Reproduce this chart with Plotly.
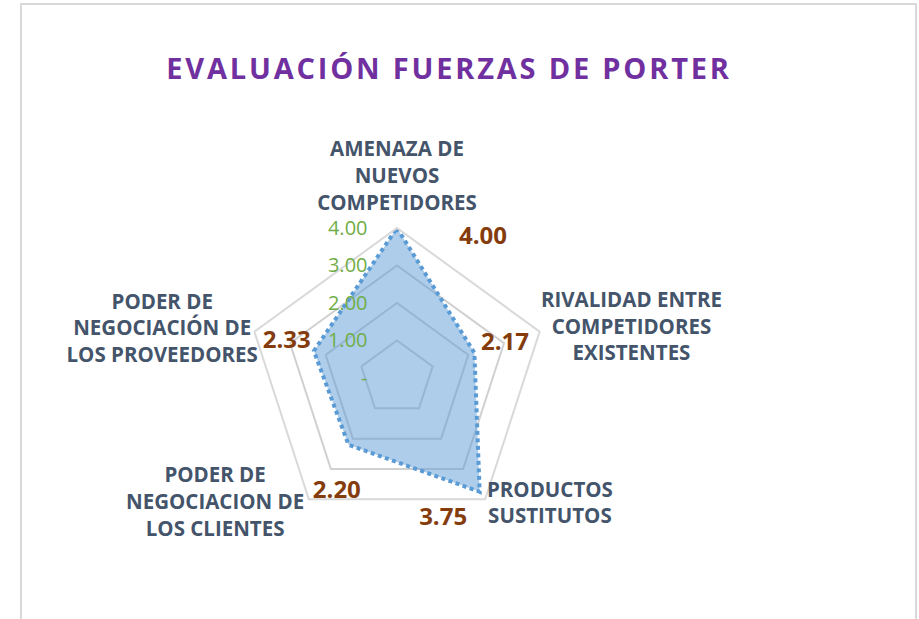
import plotly.graph_objects as go

# ---- data ----
categories = [
    "AMENAZA DE<br>NUEVOS<br>COMPETIDORES",
    "RIVALIDAD ENTRE<br>COMPETIDORES<br>EXISTENTES",
    "PRODUCTOS<br>SUSTITUTOS",
    "PODER DE<br>NEGOCIACION DE<br>LOS CLIENTES",
    "PODER DE<br>NEGOCIACIÓN DE<br>LOS PROVEEDORES",
]
values = [4.00, 2.17, 3.75, 2.20, 2.33]
radial_tickvals = [0, 1, 2, 3, 4]
radial_ticktext = ["-", "1.00", "2.00", "3.00", "4.00"]
title_text = "EVALUACIÓN FUERZAS DE PORTER"

# ---- styling: label placement offsets ----
label_dr = [0.38, 0.85, 0.21, 1.24, 0.76]          # value labels, from each point
label_dtheta = [31.6, 0.5, 17.9, -8.2, 0.0]
cat_dr = [1.34, 2.39, 1.30, 1.90, 2.39]             # category labels, beyond the outer ring
cat_dtheta = [0.0, 6.1, -14.3, 19.3, -6.5]

W, H = 919, 619
cx, cy, R = 397, 378, 150   # polar centre / radius (px)
RMAX = 4
R2MAX = 6.4                 # overlay polar radial extent (same px per unit)

fig = go.Figure()

closed_cats = categories + categories[:1]
closed_vals = values + values[:1]
fig.add_trace(go.Scatterpolar(
    r=closed_vals, theta=closed_cats, subplot="polar",
    mode="lines", fill="toself",
    fillcolor="rgba(91,155,213,0.5)",
    line=dict(color="#5B9BD5", width=4, dash="4px,3.5px"),
    hoverinfo="skip", showlegend=False,
))

step = 360 / len(values)
lab_theta = [i * step + d for i, d in enumerate(label_dtheta)]
lab_r = [v + d for v, d in zip(values, label_dr)]
fig.add_trace(go.Scatterpolar(
    r=lab_r, theta=lab_theta, subplot="polar2",
    mode="text", text=[f"{v:.2f}" for v in values],
    textfont=dict(family="Open Sans", size=24, color="#843C0C", weight="bold"),
    hoverinfo="skip", showlegend=False,
))

cat_theta = [i * step + d for i, d in enumerate(cat_dtheta)]
cat_r = [RMAX + d for d in cat_dr]
fig.add_trace(go.Scatterpolar(
    r=cat_r, theta=cat_theta, subplot="polar2",
    mode="text", text=categories,
    textfont=dict(family="Open Sans", size=20.5, color="#44546A", weight="bold"),
    hoverinfo="skip", showlegend=False,
))

dom_x = [(cx - R) / W, (cx + R) / W]
dom_y = [1 - (cy + R) / H, 1 - (cy - R) / H]
R2 = R * R2MAX / RMAX
dom2_x = [(cx - R2) / W, (cx + R2) / W]
dom2_y = [max(0, 1 - (cy + R2) / H), 1 - (cy - R2) / H]

fig.update_layout(
    width=W, height=H,
    margin=dict(l=0, r=0, t=0, b=0),
    paper_bgcolor="white", plot_bgcolor="white",
    title=dict(
        text=f"<b>{title_text}</b>",
        x=449 / W, xanchor="center", y=1 - 69 / H, yanchor="middle",
        font=dict(family="Open Sans", size=29, color="#7030A0"),
    ),
    polar=dict(
        domain=dict(x=dom_x, y=dom_y),
        bgcolor="rgba(0,0,0,0)",
        gridshape="linear",
        radialaxis=dict(
            range=[0, RMAX], angle=90, side="counterclockwise",
            tickvals=radial_tickvals, ticktext=radial_ticktext,
            tickfont=dict(family="Open Sans", size=20, color="#70AD47"),
            showline=False, ticks="outside", ticklen=22, tickcolor="rgba(0,0,0,0)",
            gridcolor="#D0D0D0", gridwidth=1.5, tickangle=90,
        ),
        angularaxis=dict(
            rotation=90, direction="clockwise",
            showgrid=False, showline=True, linecolor="#D9D9D9", linewidth=2,
            ticks="", showticklabels=False,
        ),
    ),
    polar2=dict(
        domain=dict(x=dom2_x, y=dom2_y),
        bgcolor="rgba(0,0,0,0)",
        radialaxis=dict(range=[0, R2MAX], visible=False),
        angularaxis=dict(rotation=90, direction="clockwise", visible=False),
    ),
    shapes=[dict(type="rect", xref="paper", yref="paper",
                 x0=21 / W, x1=916 / W, y0=-0.05, y1=1 - 4 / H,
                 line=dict(color="#D9D9D9", width=2), fillcolor="rgba(0,0,0,0)", layer="below")],
)

fig.write_html("out.html", config={"displayModeBar": False}, post_script="""
document.body.style.margin = '0';
document.querySelectorAll('.gtitle').forEach(function(e){ e.style.letterSpacing = '2.8px'; });
""")
